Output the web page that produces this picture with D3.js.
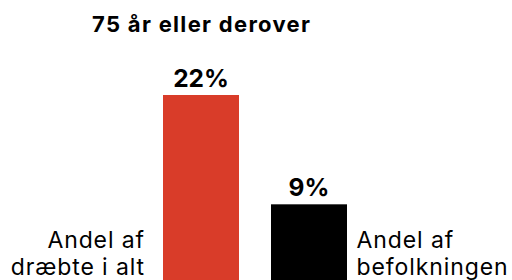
<!DOCTYPE html>
<html>
<head>
<meta charset="utf-8">
<script src="https://cdn.jsdelivr.net/npm/d3@7"></script>
<style>
  body { margin: 0; background: #fff; }
  svg { display: block; font-family: Inter, "Noto Sans", sans-serif; }
</style>
</head>
<body>
<div id="chart"></div>
<script>
const title = "75 år eller derover";
const categories = ["Andel af dræbte i alt", "Andel af befolkningen"];
const labelLines = [["Andel af", "dræbte i alt"], ["Andel af", "befolkningen"]];
const values = [22, 9];
const colors = ["#d93c29", "#000000"];

const width = 512, height = 280;

const svg = d3.select("#chart").append("svg")
  .attr("width", width)
  .attr("height", height);

// bars sit on the bottom edge of the picture
const x = d3.scaleBand()
  .domain(categories)
  .range([163, 347])
  .paddingInner(32 / 108)
  .paddingOuter(0);

const y = d3.scaleLinear()
  .domain([0, 22])
  .range([280, 95]);

svg.append("text")
  .attr("x", x(categories[0]) + x.bandwidth() / 2 + 0.7)
  .attr("y", 32)
  .attr("text-anchor", "middle")
  .style("font-size", "22px")
  .style("font-weight", 700)
  .style("letter-spacing", "1.3px")
  .text(title);

svg.selectAll(".bar")
  .data(values)
  .enter()
  .append("rect")
  .attr("class", "bar")
  .attr("x", (d, i) => x(categories[i]))
  .attr("y", d => y(d))
  .attr("width", x.bandwidth())
  .attr("height", d => y(0) - y(d))
  .style("fill", (d, i) => colors[i]);

svg.selectAll(".val")
  .data(values)
  .enter()
  .append("text")
  .attr("class", "val")
  .attr("x", (d, i) => x(categories[i]) + x.bandwidth() / 2)
  .attr("y", d => y(d) - 8.5)
  .attr("text-anchor", "middle")
  .style("font-size", "24.5px")
  .style("font-weight", 700)
  .text(d => d + "%");

// category labels: left one right-aligned, right one left-aligned
const lab = svg.selectAll(".lab")
  .data(categories)
  .enter()
  .append("text")
  .attr("class", "lab")
  .attr("x", (d, i) => i === 0 ? x(d) - 18 : x(d) + x.bandwidth() + 9.5)
  .attr("text-anchor", (d, i) => i === 0 ? "end" : "start")
  .style("font-size", "23px")
  .style("letter-spacing", "0.9px");

lab.selectAll("tspan")
  .data((d, i) => labelLines[i])
  .enter()
  .append("tspan")
  .attr("x", function() { return d3.select(this.parentNode).attr("x"); })
  .attr("y", (d, j) => 247.5 + j * 27)
  .text(d => d);
</script>
</body>
</html>
